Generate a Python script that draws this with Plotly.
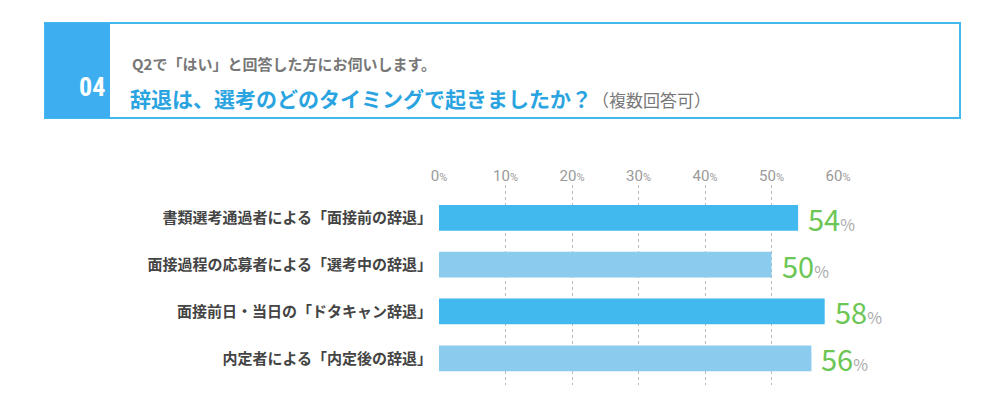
import plotly.graph_objects as go

categories = ["書類選考通過者による「面接前の辞退」", "面接過程の応募者による「選考中の辞退」",
              "面接前日・当日の「ドタキャン辞退」", "内定者による「内定後の辞退」"]
values = [54, 50, 58, 56]
colors = ["#41B8EE", "#8ACBEE", "#41B8EE", "#8ACBEE"]
tick_vals = [0, 10, 20, 30, 40, 50, 60]

FONT = "Noto Sans CJK JP"
OFF = 8  # page offset of the rendered figure
L, R, T, B = 439 - OFF, 838 - OFF, 185 - OFF, 385 - OFF


def px(x):
    return (x - OFF - L) / (R - L)


def py(y):
    return (B - (y - OFF)) / (B - T)


fig = go.Figure(go.Bar(
    y=categories, x=values, orientation="h", marker=dict(color=colors, line=dict(width=0)),
    width=0.55, hoverinfo="skip"))

for c, v in zip(categories, values):
    fig.add_annotation(x=v, y=c, xref="x", yref="y", xanchor="left", xshift=8, showarrow=False,
                       text=f"<span style='font-size:29px;color:#6CC655'>{v}</span>"
                            "<span style='font-size:16px;color:#AAAAAA'>%</span>",
                       font=dict(family=FONT))

# header box
fig.add_shape(type="rect", xref="paper", yref="paper", x0=px(45), x1=px(960), y0=py(118), y1=py(23),
              line=dict(color="#41B8EE", width=2), fillcolor="white", layer="below")
fig.add_shape(type="rect", xref="paper", yref="paper", x0=px(45), x1=px(110), y0=py(118), y1=py(23),
              line=dict(width=0), fillcolor="#3DAFF0", layer="below")
fig.add_annotation(xref="paper", yref="paper", x=px(77), y=py(70), text="<b>04</b>", showarrow=False,
                   font=dict(family="Roboto Condensed, Roboto", size=26, color="white"))
fig.add_annotation(xref="paper", yref="paper", x=px(130), y=py(51), xanchor="left", showarrow=False,
                   text="<b>Q2で「はい」と回答した方にお伺いします。</b>",
                   font=dict(family=FONT, size=15, color="#777777"))
fig.add_annotation(xref="paper", yref="paper", x=px(128), y=py(81), xanchor="left", showarrow=False,
                   text="<b>辞退は、選考のどのタイミングで起きましたか？</b>"
                        "<span style='font-size:17px;color:#777777'>（複数回答可）</span>",
                   font=dict(family=FONT, size=21, color="#2AA4E0"))

fig.update_layout(
    width=1000, height=408, margin=dict(l=L, r=1000 - R, t=T, b=408 - B),
    plot_bgcolor="white", paper_bgcolor="white", showlegend=False,
    xaxis=dict(range=[0, 60], side="top", tickvals=tick_vals,
               ticktext=[f"{t}<span style='font-size:11px'>%</span>" for t in tick_vals],
               tickfont=dict(family="Roboto", size=15, color="#999999"),
               showgrid=True, gridcolor="#BBBBBB", griddash="dot", gridwidth=1,
               zeroline=False, showline=False, ticks="", fixedrange=True),
    yaxis=dict(range=[3.57, -0.70], tickfont=dict(family=FONT, size=15, color="#444444"),
               showgrid=False, zeroline=False, ticks="", ticklabelstandoff=6),
)
fig.update_yaxes(tickprefix="<b>", ticksuffix="</b>")

fig.write_html("out.html")
